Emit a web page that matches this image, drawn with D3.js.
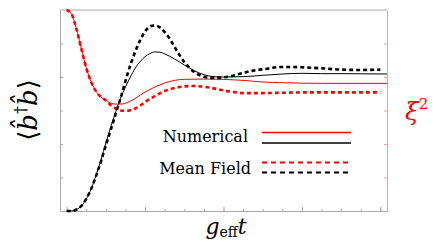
<!DOCTYPE html>
<meta charset="utf-8">
<style>
body {
    margin: 0px;
    background: white;
    overflow: hidden;
}
.ax path, .ax line { stroke: #aaa; }
.axr path, .axr line { stroke: #f99; }
text { font-family: "DejaVu Serif", serif; }
</style>
<body>
<script src="https://d3js.org/d3.v7.min.js"></script>
<script>
var width = 436,
    height = 248;

// x in g_eff t, y in arbitrary units (axes have no numbers)
var tRed = [0, 0.25, 0.5, 0.75, 1, 1.25, 1.5, 1.75, 2];
var redStart = [6.0, 5.88, 5.43, 4.84, 4.27, 3.85, 3.57, 3.40, 3.30];

var tRedNum = [2.25, 2.5, 2.75, 3, 3.25, 3.5, 3.75, 4, 4.5, 5, 5.5, 6, 7, 8, 9, 10, 11, 13, 16.34];
var redNum = [3.22, 3.19, 3.19, 3.22, 3.28, 3.36, 3.46, 3.55, 3.70, 3.82, 3.90, 3.93, 3.94, 3.93, 3.90, 3.85, 3.83, 3.81, 3.81];

var tRedMF = [2.25, 2.5, 2.75, 3, 3.25, 3.5, 3.75, 4, 4.5, 5, 5.5, 6, 6.5, 7, 7.5, 8, 8.5, 9, 10, 11, 12, 14, 16];
var redMF = [3.16, 3.06, 3.00, 2.99, 3.01, 3.06, 3.15, 3.25, 3.43, 3.58, 3.67, 3.72, 3.73, 3.71, 3.66, 3.60, 3.55, 3.52, 3.52, 3.53, 3.54, 3.54, 3.54];

var tBlkNum = [0, 0.25, 0.5, 0.75, 1, 1.25, 1.5, 1.75, 2, 2.25, 2.5, 2.75, 3, 3.25, 3.5, 3.75, 4, 4.25, 4.5, 4.75, 5, 5.5, 6, 6.5, 7, 7.5, 8, 9, 10, 11, 12, 13, 14, 16.34];
var blkNum = [0, 0, 0.045, 0.15, 0.36, 0.66, 1.07, 1.52, 2.03, 2.51, 2.96, 3.37, 3.70, 4.00, 4.27, 4.46, 4.61, 4.70, 4.75, 4.74, 4.69, 4.54, 4.36, 4.19, 4.07, 4.01, 4.00, 4.01, 4.05, 4.09, 4.11, 4.10, 4.10, 4.09];

var tBlkMF = [0, 0.25, 0.5, 0.75, 1, 1.25, 1.5, 1.75, 2, 2.25, 2.5, 2.75, 3, 3.25, 3.5, 3.75, 4, 4.25, 4.5, 4.75, 5, 5.25, 5.5, 5.75, 6, 6.5, 7, 7.5, 8, 8.5, 9, 9.5, 10, 11, 12, 13, 14, 15, 16];
var blkMF = [0, 0, 0.045, 0.15, 0.36, 0.66, 1.05, 1.48, 1.97, 2.42, 2.90, 3.37, 3.88, 4.36, 4.76, 5.10, 5.36, 5.51, 5.54, 5.48, 5.34, 5.15, 4.90, 4.66, 4.45, 4.15, 4.01, 3.97, 3.99, 4.04, 4.12, 4.19, 4.23, 4.30, 4.29, 4.26, 4.22, 4.21, 4.22];

var xMajor = [0, 4, 8, 12, 16];
var xMinor = d3.range(0, 17, 1);
var yTicks = [0, 1, 2, 3, 4, 5, 6];

var legendLabels = ["Numerical", "Mean Field"];

var margin = {left: 60, right: 49, top: 10, bottom: 37};

var x = d3.scaleLinear()
    .domain([-0.34, 16.34])
    .range([margin.left, width - margin.right]);
var y = d3.scaleLinear()
    .domain([0, 6])
    .range([height - margin.bottom, margin.top]);

var svg = d3.select("body").append("svg")
    .attr("width", width)
    .attr("height", height);

// frame
svg.append("line").attr("x1", x(-0.34)).attr("x2", x(16.34))
    .attr("y1", y(6)).attr("y2", y(6)).attr("stroke", "#aaa");

svg.append("g").attr("class", "ax")
    .attr("transform", "translate(" + margin.left + ",0)")
    .call(d3.axisLeft(y).tickValues(yTicks.slice(1, 6)).tickSize(-3).tickSizeOuter(0).tickFormat(""));

svg.append("g").attr("class", "axr")
    .attr("transform", "translate(" + (width - margin.right) + ",0)")
    .call(d3.axisRight(y).tickValues(yTicks.slice(1, 6)).tickSize(-3).tickSizeOuter(0).tickFormat(""));

svg.append("g").attr("class", "ax")
    .attr("transform", "translate(0," + y(0) + ")")
    .call(d3.axisBottom(x).tickValues(xMinor).tickSize(-2).tickSizeOuter(0).tickFormat(""));
svg.append("g").attr("class", "ax")
    .attr("transform", "translate(0," + y(0) + ")")
    .call(d3.axisBottom(x).tickValues(xMajor).tickSize(-4).tickSizeOuter(0).tickFormat(""))
    .select(".domain").remove();

var line = d3.line()
    .x(function(d) { return x(d[0]); })
    .y(function(d) { return y(d[1]); })
    .curve(d3.curveMonotoneX);

function pts(ts, vs) { return ts.map(function(t, i) { return [t, vs[i]]; }); }

var redNumPts = pts(tRed, redStart).concat(pts(tRedNum, redNum));
var redMFPts = pts(tRed, redStart).concat(pts(tRedMF, redMF));

var plot = svg.append("g");
plot.append("path").attr("d", line(pts(tBlkNum, blkNum)))
    .attr("fill", "none").attr("stroke", "black").attr("stroke-width", 1);
plot.append("path").attr("d", line(redNumPts))
    .attr("fill", "none").attr("stroke", "red").attr("stroke-width", 1);
plot.append("path").attr("d", line(redMFPts))
    .attr("fill", "none").attr("stroke", "red").attr("stroke-width", 2.6)
    .attr("stroke-dasharray", "4,3");
plot.append("path").attr("d", line(pts(tBlkMF, blkMF)))
    .attr("fill", "none").attr("stroke", "black").attr("stroke-width", 2.6)
    .attr("stroke-dasharray", "4,3");

// legend
var lg = svg.append("g");
lg.append("text").attr("x", 248).attr("y", 142).attr("text-anchor", "end")
    .attr("font-size", 16).text(legendLabels[0]);
lg.append("text").attr("x", 251).attr("y", 174).attr("text-anchor", "end")
    .attr("font-size", 16).text(legendLabels[1]);
var legLines = [
    {y: 132.5, c: "red", w: 1.6, dash: null},
    {y: 143, c: "black", w: 1.6, dash: null},
    {y: 162.5, c: "red", w: 2, dash: "5,4"},
    {y: 172.5, c: "black", w: 2, dash: "5,4"}
];
legLines.forEach(function(l) {
    lg.append("line").attr("x1", 262).attr("x2", 351).attr("y1", l.y).attr("y2", l.y)
        .attr("stroke", l.c).attr("stroke-width", l.w)
        .attr("stroke-dasharray", l.dash);
});

// axis labels
var yl = svg.append("text")
    .attr("transform", "translate(37,110) rotate(-90)")
    .attr("text-anchor", "middle").attr("font-size", 26);
yl.append("tspan").text("\u27E8");
yl.append("tspan").attr("font-style", "italic").text("b\u0302");
yl.append("tspan").attr("font-size", 16).attr("dy", -11).text("\u2020");
yl.append("tspan").attr("dy", 11).attr("font-style", "italic").text("b\u0302");
yl.append("tspan").text("\u27E9");

var xl = svg.append("text").attr("x", 226).attr("y", 234)
    .attr("text-anchor", "middle").attr("font-size", 22);
xl.append("tspan").attr("font-style", "italic").text("g");
xl.append("tspan").attr("font-size", 14).attr("dy", 3).text("eff");
xl.append("tspan").attr("dy", -3).attr("font-style", "italic").text("t");

var rl = svg.append("text").attr("x", 405).attr("y", 120)
    .attr("fill", "red").attr("font-size", 25);
rl.append("tspan").attr("font-style", "italic").text("\u03BE");
rl.append("tspan").attr("font-size", 15).attr("dy", -11).text("2");
</script>
</body>
</html>
